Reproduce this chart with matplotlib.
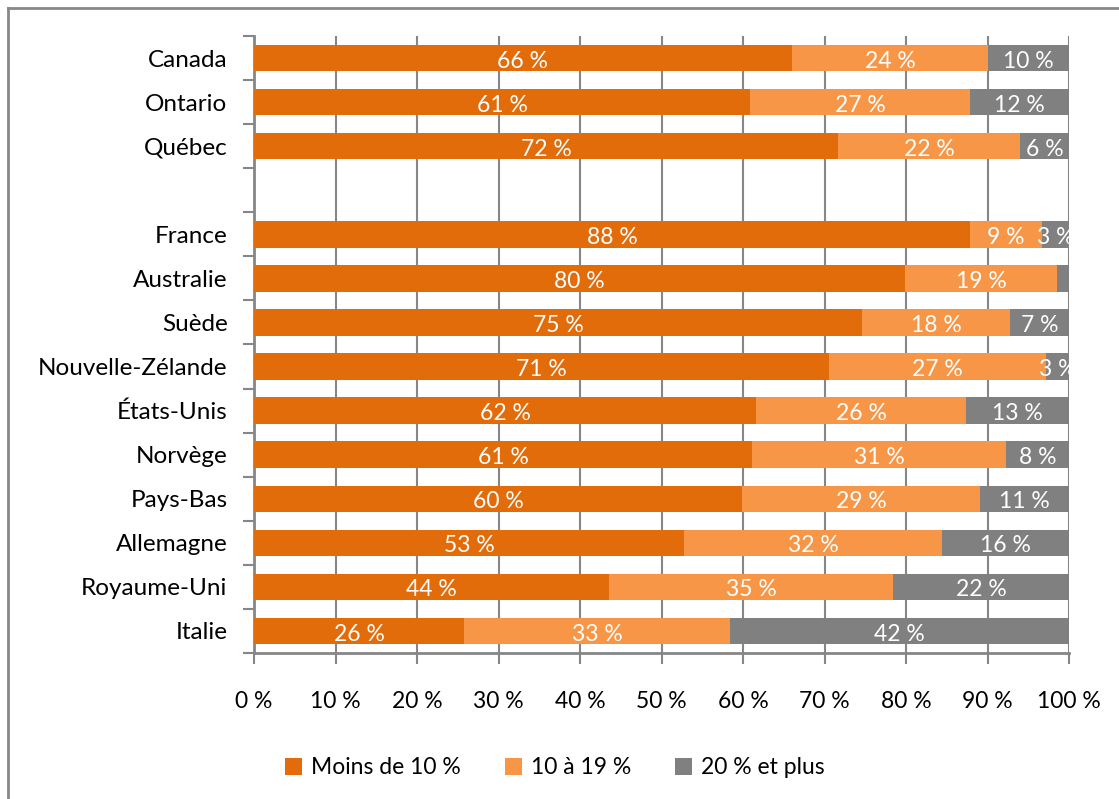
import numpy as np
import matplotlib
matplotlib.use("Agg")
import matplotlib.pyplot as plt
from matplotlib.lines import Line2D

plt.rcParams['font.family'] = ['Lato', 'DejaVu Sans']

# donnees (pourcentages, de haut en bas)
pays = ["Canada", "Ontario", "Québec", "", "France", "Australie", "Suède",
        "Nouvelle-Zélande", "États-Unis", "Norvège", "Pays-Bas", "Allemagne",
        "Royaume-Uni", "Italie"]
moins_10 = [66.0, 60.9, 71.7, 0, 87.9, 79.9, 74.6, 70.6, 61.6, 61.1, 59.9, 52.8, 43.6, 25.8]
de_10_19 = [24.1, 27.0, 22.3, 0, 8.8, 18.6, 18.2, 26.6, 25.8, 31.2, 29.2, 31.6, 34.8, 32.6]
plus_20 = [9.9, 12.1, 6.0, 0, 3.3, 1.5, 7.2, 2.8, 12.6, 7.7, 10.9, 15.6, 21.6, 41.6]
series = ["Moins de 10 %", "10 à 19 %", "20 % et plus"]
couleurs = ["#E36C0A", "#F79646", "#808080"]

fig = plt.figure(figsize=(11.19, 7.99), dpi=100)
ax = fig.add_axes([254/1119, 1-653/799, (1069-254)/1119, (653-36)/799])

y = np.arange(len(pays))
gauche = np.zeros(len(pays))
for vals, nom, c in zip([moins_10, de_10_19, plus_20], series, couleurs):
    vals = np.array(vals)
    ax.barh(y, vals, left=gauche, height=0.6, color=c, label=nom, zorder=3)
    for yi, g, v in zip(y, gauche, vals):
        if v >= 2:
            ax.text(g + v/2, yi + 0.07, "{:.0f} %".format(v), color="white",
                    ha="center", va="center", fontsize=16.5, zorder=4, clip_on=True)
    gauche = gauche + vals

ax.set_xlim(0, 100)
ax.set_ylim(len(pays) - 0.5, -0.5)
ax.set_xticks(np.arange(0, 101, 10))
ax.set_xticklabels(["{} %".format(t) for t in range(0, 101, 10)])
ax.set_yticks(y)
ax.set_yticklabels(pays)
ax.set_yticks(np.arange(-0.5, len(pays), 1), minor=True)
ax.tick_params(axis='y', which='major', length=0, pad=19, labelsize=17.5)
ax.tick_params(axis='y', which='minor', length=8, width=1.5, color="#868686")
ax.tick_params(axis='x', length=8, width=1.5, color="#868686", pad=19, labelsize=16.5)
ax.grid(axis='x', color="#868686", linewidth=1.5, zorder=0)
for s in ["top", "right"]:
    ax.spines[s].set_visible(False)
for s in ["left", "bottom"]:
    ax.spines[s].set_color("#868686")
    ax.spines[s].set_linewidth(2)

fig.legend(loc="center", bbox_to_anchor=(0.496, 1-768/799), ncol=3, frameon=False,
           fontsize=16.5, handlelength=0.75, handleheight=0.75, columnspacing=1.9,
           handletextpad=0.4)

# cadre
fig.add_artist(Line2D([8/1119, 1], [1-8/799, 1-8/799], color="#888888", linewidth=2))
fig.add_artist(Line2D([8/1119, 8/1119], [0, 1-8/799], color="#888888", linewidth=2))

fig.savefig("out.png", dpi=100)
